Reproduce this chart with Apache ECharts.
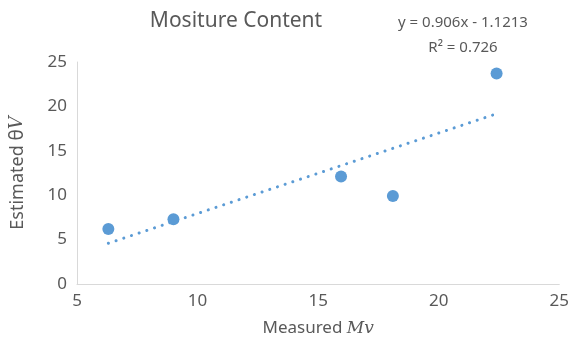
<!DOCTYPE html>
<html>
<head>
<meta charset="utf-8">
<script src="https://cdn.jsdelivr.net/npm/echarts@6/dist/echarts.min.js"></script>
<style>
  html, body { margin: 0; padding: 0; background: #fff; }
  #main { width: 572px; height: 342px; }
</style>
</head>
<body>
<div id="main"></div>
<script>
// measured vs estimated moisture
var measured = [6.3, 9.0, 15.95, 18.1, 22.4];
var estimated = [6.2, 7.3, 12.1, 9.9, 23.7];
var slope = 0.906;
var intercept = -1.1213;
var xTicks = [5, 10, 15, 20, 25];
var yTicks = [0, 5, 10, 15, 20, 25];

var points = measured.map(function (x, i) { return [x, estimated[i]]; });
var xMin = Math.min.apply(null, measured);
var xMax = Math.max.apply(null, measured);
var trend = [[xMin, slope * xMin + intercept], [xMax, slope * xMax + intercept]];

var chart = echarts.init(document.getElementById('main'));
var grey = '#595959';
var font = 'Noto Sans';

chart.setOption({
  animation: false,
  title: [{
    text: 'Mositure Content',
    left: 231, top: 6, textAlign: 'center',
    textStyle: { fontFamily: font, fontSize: 21, fontWeight: 'normal', color: grey }
  }, {
    text: 'y = 0.906x - 1.1213\nR² = 0.726',
    left: 458, top: 5, textAlign: 'center',
    textStyle: { fontFamily: font, fontSize: 15, fontWeight: 'normal', color: grey, lineHeight: 25 }
  }],
  grid: { left: 75, right: 9, top: 62, bottom: 57 },
  xAxis: {
    type: 'value', min: xTicks[0], max: xTicks[xTicks.length - 1], interval: 5,
    name: '{a|Measured }{b|Mv}', nameLocation: 'middle', nameGap: 36,
    nameTextStyle: {
      rich: {
        a: { fontFamily: font, fontSize: 17, color: grey },
        b: { fontFamily: 'DejaVu Serif', fontStyle: 'italic', fontSize: 17, color: grey }
      }
    },
    axisLine: { lineStyle: { color: '#d9d9d9', width: 1 } },
    axisTick: { show: false },
    splitLine: { show: false },
    axisLabel: { fontFamily: font, fontSize: 17, color: grey, margin: 9 }
  },
  yAxis: {
    type: 'value', min: yTicks[0], max: yTicks[yTicks.length - 1], interval: 5,
    name: '{a|Estimated }{b|θ}{c|V}', nameLocation: 'middle', nameGap: 50,
    nameTextStyle: {
      rich: {
        a: { fontFamily: font, fontSize: 18, color: grey },
        b: { fontFamily: font, fontSize: 19, color: grey },
        c: { fontFamily: 'DejaVu Serif', fontStyle: 'italic', fontSize: 18, color: grey }
      }
    },
    axisLine: { show: true, lineStyle: { color: '#d9d9d9', width: 1 } },
    axisTick: { show: false },
    splitLine: { show: false },
    axisLabel: { fontFamily: font, fontSize: 17, color: grey, margin: 10 }
  },
  series: [{
    type: 'line',
    data: trend,
    showSymbol: false,
    symbol: 'none',
    lineStyle: { color: '#5b9bd5', width: 3, type: [0.1, 8], cap: 'round' },
    z: 1
  }, {
    type: 'scatter',
    data: points,
    symbolSize: 12,
    itemStyle: { color: '#5b9bd5', opacity: 1 },
    z: 2
  }]
});
</script>
</body>
</html>
